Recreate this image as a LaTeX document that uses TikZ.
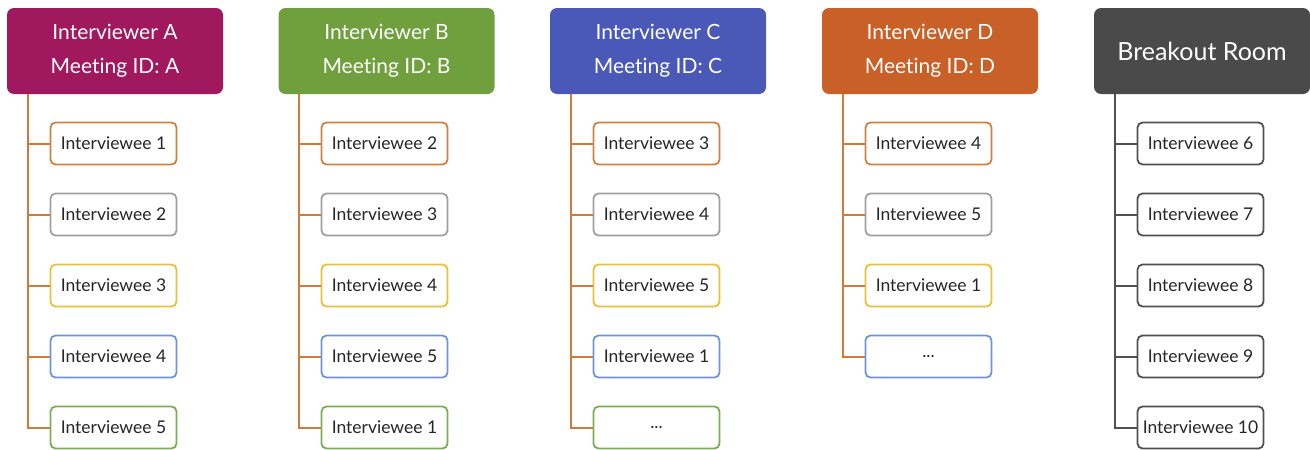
\documentclass[tikz,border=0pt]{standalone}
\usepackage{fontspec}
\setmainfont{Lato}[Ligatures=NoCommon]
\usetikzlibrary{calc, positioning}
% Room colors
\definecolor{roomA}{RGB}{160,24,94}
\definecolor{roomB}{RGB}{112,160,62}
\definecolor{roomC}{RGB}{74,88,184}
\definecolor{roomD}{RGB}{200,96,40}
\definecolor{roomE}{RGB}{74,74,74}
% Border colors
\definecolor{bOrange}{RGB}{210,128,62}
\definecolor{bGray}{RGB}{160,160,160}
\definecolor{bYellow}{RGB}{232,192,58}
\definecolor{bBlue}{RGB}{112,148,216}
\definecolor{bGreen}{RGB}{122,174,78}
\definecolor{bDark}{RGB}{80,80,80}
\definecolor{linkO}{RGB}{208,122,60}
\tikzset{
  % Interviewer node
  hnode/.style={fill=#1, rounded corners=7pt, minimum width=216pt,
    minimum height=86pt, inner sep=0pt, text=white, align=center,
    font=\fontsize{21}{34}\selectfont},
  % Interviewee node
  cnode/.style={draw=#1, line width=1.8pt, fill=white, rounded corners=5pt,
    minimum width=126pt, minimum height=42pt, inner sep=0pt,
    text=black!85, font=\fontsize{17.5}{20}\selectfont},
  % Tree lines
  link/.style={line width=2pt, draw=#1},
}

\begin{document}
\begin{tikzpicture}[x=1pt, y=-1pt]
  \useasboundingbox (0,0) rectangle (1310,450);

  % Interviewers
  \node[hnode=roomA] (hA) at (115,51) {Interviewer A\\Meeting ID: A};
  \node[hnode=roomB] (hB) at (386.5,51) {Interviewer B\\Meeting ID: B};
  \node[hnode=roomC] (hC) at (658,51) {Interviewer C\\Meeting ID: C};
  \node[hnode=roomD] (hD) at (930,51) {Interviewer D\\Meeting ID: D};
  \node[hnode=roomE, font=\fontsize{25}{30}\selectfont] (hE) at (1202,51) {Breakout Room};

  % Room A
  \node[cnode=bOrange] (a1) at (113.5,143.5) {Interviewee 1};
  \node[cnode=bGray]   (a2) at (113.5,214.5) {Interviewee 2};
  \node[cnode=bYellow] (a3) at (113.5,285.5) {Interviewee 3};
  \node[cnode=bBlue]   (a4) at (113.5,356.5) {Interviewee 4};
  \node[cnode=bGreen]  (a5) at (113.5,427.5) {Interviewee 5};

  % Room B
  \node[cnode=bOrange] (b1) at (384.5,143.5) {Interviewee 2};
  \node[cnode=bGray]   (b2) at (384.5,214.5) {Interviewee 3};
  \node[cnode=bYellow] (b3) at (384.5,285.5) {Interviewee 4};
  \node[cnode=bBlue]   (b4) at (384.5,356.5) {Interviewee 5};
  \node[cnode=bGreen]  (b5) at (384.5,427.5) {Interviewee 1};

  % Room C
  \node[cnode=bOrange] (c1) at (656.5,143.5) {Interviewee 3};
  \node[cnode=bGray]   (c2) at (656.5,214.5) {Interviewee 4};
  \node[cnode=bYellow] (c3) at (656.5,285.5) {Interviewee 5};
  \node[cnode=bBlue]   (c4) at (656.5,356.5) {Interviewee 1};
  \node[cnode=bGreen]  (c5) at (656.5,427.5) {...};

  % Room D
  \node[cnode=bOrange] (d1) at (928.5,143.5) {Interviewee 4};
  \node[cnode=bGray]   (d2) at (928.5,214.5) {Interviewee 5};
  \node[cnode=bYellow] (d3) at (928.5,285.5) {Interviewee 1};
  \node[cnode=bBlue]   (d4) at (928.5,356.5) {...};

  % Breakout room
  \node[cnode=bDark] (e1) at (1200.5,143.5) {Interviewee 6};
  \node[cnode=bDark] (e2) at (1200.5,214.5) {Interviewee 7};
  \node[cnode=bDark] (e3) at (1200.5,285.5) {Interviewee 8};
  \node[cnode=bDark] (e4) at (1200.5,356.5) {Interviewee 9};
  \node[cnode=bDark] (e5) at (1200.5,427.5) {Interviewee 10};

  % Tree lines
  \foreach \h/\c/\n/\k in {hA/a/5/linkO, hB/b/5/linkO, hC/c/5/linkO,
    hD/d/4/linkO, hE/e/5/bDark} {
    \coordinate (\h-t) at ($(\h.south west)+(21,0)$);
    \foreach \i in {1,...,\n}
      \draw[link=\k] (\h-t) |- (\c\i.west);
  }
\end{tikzpicture}
\end{document}
